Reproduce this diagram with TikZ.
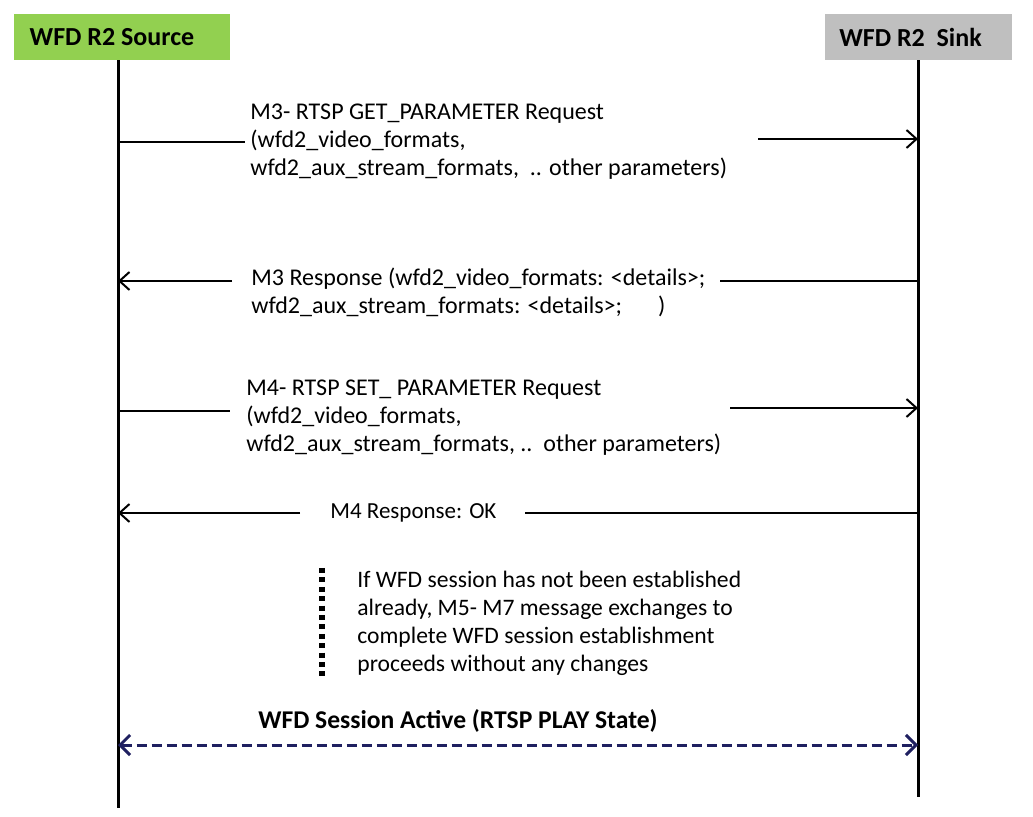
\documentclass[tikz,border=0pt]{standalone}
\usepackage{fontspec}
\setmainfont{Carlito}
\usepackage{tikz}
\usetikzlibrary{arrows.meta}
\usetikzlibrary{positioning}
\usetikzlibrary{calc}
\definecolor{srcgreen}{HTML}{92D050}
\definecolor{sinkgray}{HTML}{BFBFBF}
\definecolor{navy}{HTML}{1F2060}

\tikzset{
  head/.style={minimum height=23pt,inner sep=0pt,font=\fontsize{13}{15}\selectfont\bfseries},
  lifeline/.style={line width=1.5pt},
  msg/.style={line width=1pt},
  msgtext/.style={anchor=west,align=left,inner sep=0pt,font=\fontsize{12}{14}\selectfont},
  tip/.style={-{Straight Barb[length=5pt,width=9pt,line width=1pt]}}
}

\begin{document}
\begin{tikzpicture}[x=0.5pt,y=-0.5pt]
\useasboundingbox (0,0) rectangle (1033,817);
% participants
\node[head,fill=srcgreen,minimum width=108pt] (src) at (122,37) {WFD R2 Source\hspace{10pt}\null};
\node[head,fill=sinkgray,minimum width=93.5pt] (sink) at (918.5,37) {WFD R2\ \ Sink\hspace{8pt}\null};
\coordinate (srcend) at (118,808);
\coordinate (sinkend) at (918,797);
\draw[lifeline] (src.south -| srcend) -- (srcend);
\draw[lifeline] (sink.south -| sinkend) -- (sinkend);

% M3 request
\node[msgtext] (m3req) at (250,142) {M3- RTSP GET\_PARAMETER\ Request\\(wfd2\_video\_formats,\\wfd2\_aux\_stream\_formats,\ \ .. other parameters)};
\coordinate (m3a) at (245,142);
\coordinate (m3b) at (758,139);
\draw[msg] (m3a -| srcend) -- (m3a);
\draw[msg,tip] (m3b) -- (m3b -| sinkend);

% M3 response
\node[msgtext] (m3rsp) at (251,292) {M3 Response (wfd2\_video\_formats: <details>;\\wfd2\_aux\_stream\_formats: <details>;\hspace{18pt})};
\coordinate (m3c) at (720,281);
\coordinate (m3d) at (232,281);
\draw[msg] (m3c -| sinkend) -- (m3c);
\draw[msg,tip] (m3d) -- (m3d -| srcend);

% M4 request
\node[msgtext] (m4req) at (246,418) {M4- RTSP SET\_ PARAMETER Request\\(wfd2\_video\_formats,\\wfd2\_aux\_stream\_formats, ..\ \ other parameters)};
\coordinate (m4a) at (230,411);
\coordinate (m4b) at (730,408);
\draw[msg] (m4a -| srcend) -- (m4a);
\draw[msg,tip] (m4b) -- (m4b -| sinkend);

% M4 response
\node[msgtext,font=\fontsize{11.5}{14}\selectfont] (m4rsp) at (330,513) {M4 Response: OK};
\coordinate (m4c) at (525,513);
\coordinate (m4d) at (300,513);
\draw[msg] (m4c -| sinkend) -- (m4c);
\draw[msg,tip] (m4d) -- (m4d -| srcend);

% note
\node[msgtext,font=\fontsize{11.8}{14}\selectfont] (note) at (357,623) {If WFD session has not been established\\already, M5- M7 message exchanges to\\complete WFD session establishment\\proceeds without any changes};
\coordinate (dotstop) at (322,568);
\coordinate (dotsbot) at (322,676);
\draw[line width=3pt,dash pattern=on 2.5pt off 2.2pt] (dotstop) -- (dotsbot);

% session active
\node[font=\fontsize{12.8}{14}\selectfont\bfseries,inner sep=0pt] (active) at (458,721) {WFD Session Active (RTSP PLAY State)};
\coordinate (acta) at (118,745);
\coordinate (actb) at (918,745);
\draw[navy,line width=1.5pt,dash pattern=on 5pt off 2.5pt,{Straight Barb[length=5pt,width=10pt,line width=1.5pt]}-{Straight Barb[length=5pt,width=10pt,line width=1.5pt]}] (acta) -- (actb);
\end{tikzpicture}
\end{document}
